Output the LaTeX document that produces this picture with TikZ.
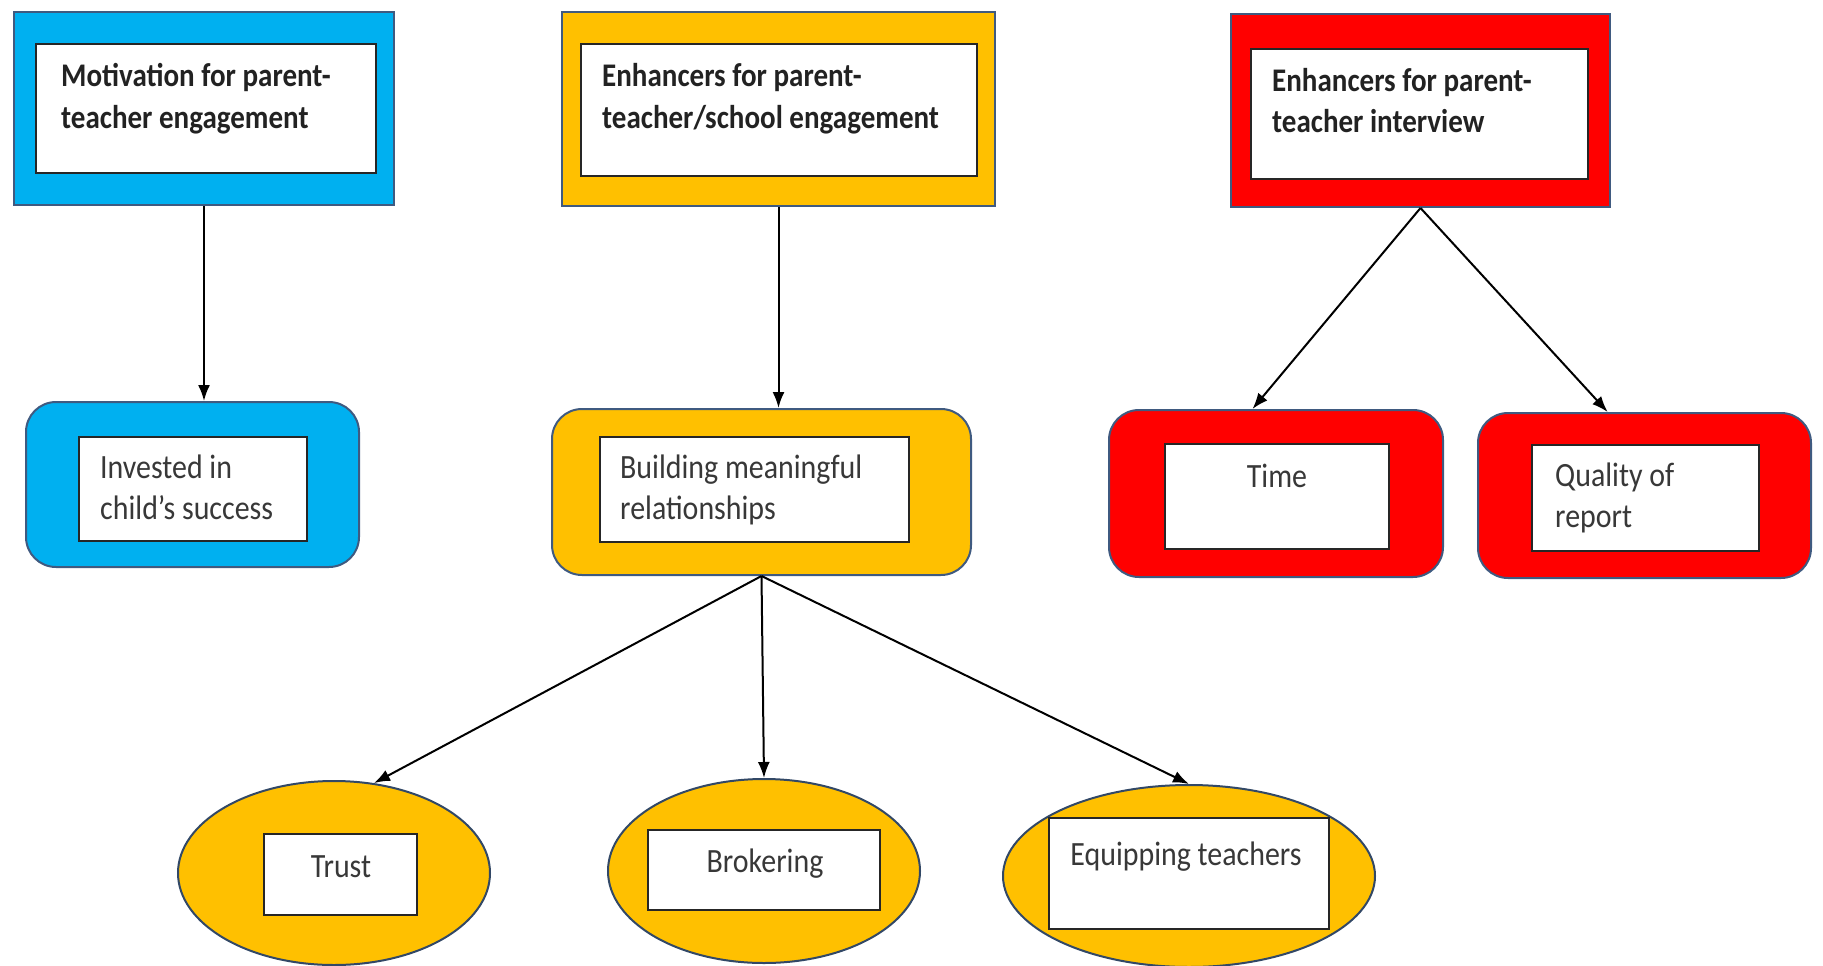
\documentclass[tikz,border=0pt]{standalone}
\usepackage{fontspec}
\setmainfont{Carlito}[FakeStretch=0.88]
\usetikzlibrary{arrows.meta,shapes.geometric,calc}
\definecolor{cblue}{HTML}{00B0F0}
\definecolor{cyellow}{HTML}{FFC000}
\definecolor{cred}{HTML}{FF0000}
\definecolor{edgeblue}{HTML}{3F5A80}
\definecolor{txt}{HTML}{222222}
\tikzset{
  outerbox/.style={draw=edgeblue, line width=2pt, inner sep=0pt, minimum width=#1},
  roundbox/.style={draw=edgeblue, line width=2pt, rounded corners=30pt, inner sep=0pt},
  ovalbox/.style={ellipse, draw=edgeblue!80!black, line width=2pt, fill=cyellow, inner sep=0pt},
  innerbox/.style={draw=black!85, line width=2pt, fill=white, inner sep=0pt},
  headtext/.style={inner sep=0pt, align=left, text=txt, font=\fontsize{33}{41}\selectfont\bfseries},
  bodytext/.style={inner sep=0pt, align=left, text=txt!90, font=\fontsize{34}{41}\selectfont},
  arr/.style={-{Latex[length=16pt,width=12pt]}, line width=2pt, black}
}
\begin{document}
\begin{tikzpicture}[x=1pt,y=-1pt]
\useasboundingbox (0,0) rectangle (1823,966);
% top row
\node[outerbox=380pt, fill=cblue, minimum height=193pt] (b1) at (204,108.5) {};
\node[innerbox, minimum width=340pt, minimum height=129pt] (b1in) at (206,108.5) {};
\node[headtext, anchor=base west] (b1t) at (61,128) {Motivation for parent-\\teacher engagement};

\node[outerbox=433pt, fill=cyellow, minimum height=194pt] (b2) at (778.5,109) {};
\node[innerbox, minimum width=396pt, minimum height=132pt] (b2in) at (779,110) {};
\node[headtext, anchor=base west] (b2t) at (602,128) {Enhancers for parent-\\teacher/school engagement};

\node[outerbox=379pt, fill=cred, minimum height=193pt] (b3) at (1420.5,110.5) {};
\node[innerbox, minimum width=337pt, minimum height=130pt] (b3in) at (1419.5,114) {};
\node[headtext, anchor=base west] (b3t) at (1272,132) {Enhancers for parent-\\teacher interview};

% second row
\node[roundbox, fill=cblue, minimum width=333pt, minimum height=165pt] (r1) at (192.5,484.5) {};
\node[innerbox, minimum width=228pt, minimum height=104pt] (r1in) at (193,489) {};
\node[bodytext, anchor=base west] (r1t) at (100,519) {Invested in\\child’s success};

\node[roundbox, fill=cyellow, minimum width=419pt, minimum height=166pt] (r2) at (761.5,492) {};
\node[innerbox, minimum width=309pt, minimum height=105pt] (r2in) at (754.5,489.5) {};
\node[bodytext, anchor=base west] (r2t) at (620,519) {Building meaningful\\relationships};

\node[roundbox, fill=cred, minimum width=334pt, minimum height=167pt] (t) at (1276,493.5) {};
\node[innerbox, minimum width=224pt, minimum height=105pt] (tin) at (1277,496.5) {};
\node[bodytext, anchor=base] (tt) at (1277,487) {Time};

\node[roundbox, fill=cred, minimum width=333pt, minimum height=165pt] (q) at (1644.5,495.5) {};
\node[innerbox, minimum width=227pt, minimum height=106pt] (qin) at (1645.5,498) {};
\node[bodytext, anchor=base west] (qt) at (1555,527) {Quality of\\report};

% third row
\node[ovalbox, minimum width=312pt, minimum height=184pt] (e1) at (334,873) {};
\node[innerbox, minimum width=153pt, minimum height=81pt] (e1in) at (340.5,874.5) {};
\node[bodytext, anchor=base] (e1t) at (341,877) {Trust};

\node[ovalbox, minimum width=312pt, minimum height=184pt] (e2) at (764,871) {};
\node[innerbox, minimum width=232pt, minimum height=80pt] (e2in) at (764,870) {};
\node[bodytext, anchor=base] (e2t) at (765,872) {Brokering};

\node[ovalbox, minimum width=372pt, minimum height=182pt] (e3) at (1189,876) {};
\node[innerbox, minimum width=280pt, minimum height=111pt] (e3in) at (1189,873.5) {};
\node[bodytext, anchor=base] (e3t) at (1186,865) {Equipping teachers};

% connectors
\draw[arr] (b1.south) -- (b1.south |- r1.north);
\draw[arr] (b2.south) -- (b2.south |- r2.north);
\draw[arr] (b3.south) -- ($(t.north west)!0.43!(t.north east)$);
\draw[arr] (b3.south) -- ($(q.north west)!0.39!(q.north east)$);
\draw[arr] (r2.south) -- (e1.66);
\draw[arr] (r2.south) -- (e2.north);
\draw[arr] (r2.south) -- (e3.north);
\end{tikzpicture}
\end{document}
